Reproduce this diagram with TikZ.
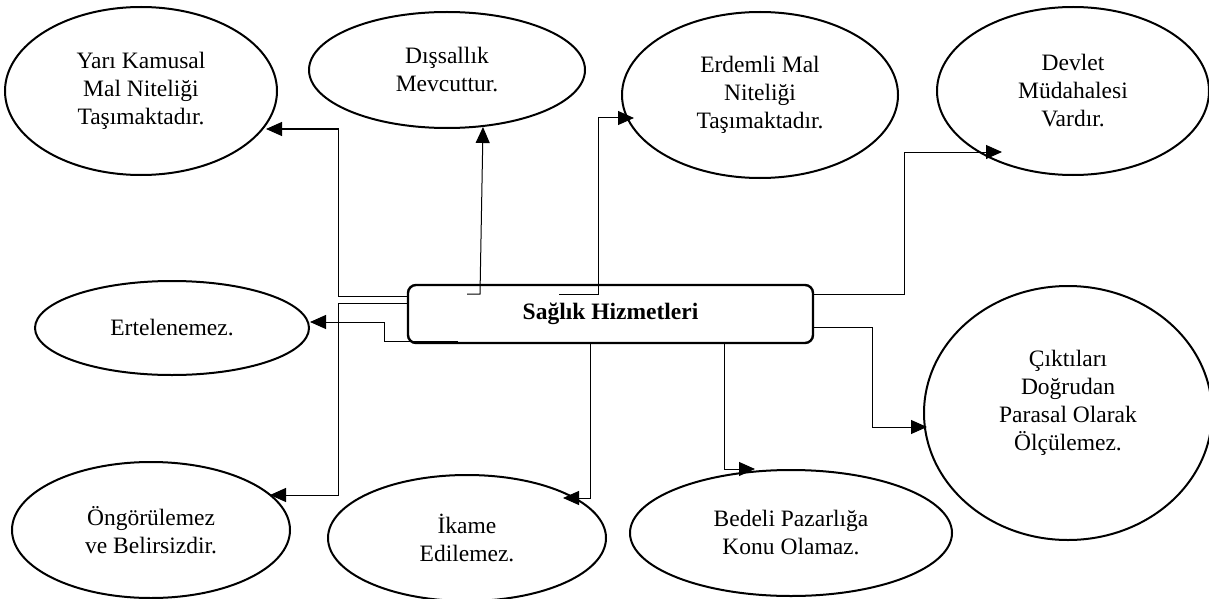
\documentclass[tikz,border=0pt]{standalone}
\usepackage{fontspec}
\setmainfont{Liberation Serif}
\usetikzlibrary{shapes.geometric,arrows.meta}
\newcommand{\fsz}{\fontsize{23.5}{28}\selectfont}
\tikzset{
  oval/.style={ellipse, draw, line width=2pt, inner sep=0pt, align=center, font=\fsz},
  mainbox/.style={draw, line width=2.4pt, rounded corners=8pt, inner sep=0pt, font=\fsz\bfseries},
  conn/.style={line width=1pt, -{Triangle[length=16pt,width=14pt]}},
}
\begin{document}
\begin{tikzpicture}[x=1pt,y=-1pt]
\useasboundingbox (0,0) rectangle (1209,599);

% central box
\node[mainbox, minimum width=405pt, minimum height=58pt] (box) at (610.5,314) {Sağlık Hizmetleri};

% ellipses
\node[oval, minimum width=272pt, minimum height=168pt] (yk) at (141,91) {Yarı Kamusal\\Mal Niteliği\\Taşımaktadır.};
\node[oval, minimum width=276pt, minimum height=116pt] (dis) at (447,70) {Dışsallık\\Mevcuttur.};
\node[oval, minimum width=276pt, minimum height=166pt] (erd) at (760,95) {Erdemli Mal\\Niteliği\\Taşımaktadır.};
\node[oval, minimum width=272pt, minimum height=168pt] (dev) at (1073,91) {Devlet\\Müdahalesi\\Vardır.};
\node[oval, minimum width=274pt, minimum height=94pt] (ert) at (172,328) {Ertelenemez.};
\node[oval, minimum width=288pt, minimum height=254pt] (cik) at (1068,413) {};
\node[align=center, font=\fsz, inner sep=0pt] (ciktext) at (1068,403) {Çıktıları\\Doğrudan\\Parasal Olarak\\Ölçülemez.};
\node[oval, minimum width=278pt, minimum height=136pt] (ong) at (151,530) {Öngörülemez\\ve Belirsizdir.};
\node[oval, minimum width=278pt, minimum height=126pt] (ika) at (467,538) {İkame\\Edilemez.};
\node[oval, minimum width=322pt, minimum height=126pt] (bed) at (791,533) {Bedeli Pazarlığa\\Konu Olamaz.};

% connector start points inside the box and arrow tips on the ellipses
\coordinate (sDis) at (467,294);
\coordinate (sErd) at (559,294);
\coordinate (sErt) at (458,341);
\coordinate (tYK) at (266,129);
\coordinate (tDis) at (483,127);
\coordinate (tErd) at (634,118);
\coordinate (tDev) at (1002,152);
\coordinate (tErt) at (310,322);
\coordinate (tCik) at (927,427);
\coordinate (tOng) at (270,495);
\coordinate (tIka) at (563,498);
\coordinate (tBed) at (755,469);

% connectors
\draw[conn] (box.west |- 0,296) -- (338,296) -- (338,129) -- (tYK);
\draw[conn] (sDis) -- (480,294) -- (tDis);
\draw[conn] (sErd) -- (598,294) -- (598,118) -- (tErd);
\draw[conn] (box.east |- 0,294) -- (904,294) -- (904,152) -- (tDev);
\draw[conn] (box.east |- 0,327) -- (872,327) -- (872,427) -- (tCik);
\draw[conn] (box.south -| 724,0) -- (724,469) -- (tBed);
\draw[conn] (box.south -| 590,0) -- (590,498) -- (tIka);
\draw[conn] (box.west |- 0,303) -- (338,303) -- (338,495) -- (tOng);
\draw[conn] (sErt) -- (384,341) -- (384,322) -- (tErt);
\end{tikzpicture}
\end{document}
